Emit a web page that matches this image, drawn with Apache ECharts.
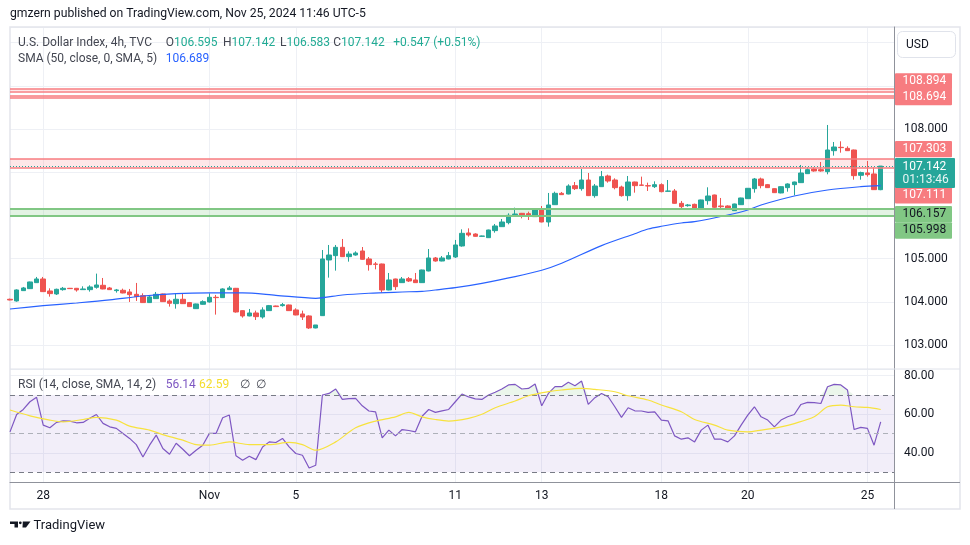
<!DOCTYPE html>
<html><head><meta charset="utf-8">
<script src="https://cdn.jsdelivr.net/npm/echarts@6/dist/echarts.min.js"></script>
<style>html,body{margin:0;padding:0;background:#fff}#c{width:970px;height:545px}</style>
</head><body><div id="c"></div>
<script>
// ---- data (4h candles, Oct 25 – Nov 25, 2024) ----
const openP = [104.058,104.019,104.258,104.304,104.443,104.528,104.250,104.181,104.281,104.312,104.312,104.281,104.281,104.335,104.382,104.320,104.258,104.266,104.227,104.173,104.142,103.981,104.073,104.181,104.019,103.957,104.058,103.981,103.841,103.942,103.996,104.104,104.096,104.281,104.312,103.795,103.672,103.741,103.648,103.795,103.903,103.911,103.926,103.811,103.718,103.672,103.394,103.679,104.968,105.068,105.261,105.045,105.083,105.176,104.991,104.875,104.875,104.273,104.528,104.443,104.535,104.505,104.443,104.713,105.014,104.944,104.991,105.037,105.292,105.593,105.569,105.515,105.484,105.647,105.739,105.832,106.017,106.048,106.040,105.971,106.148,105.847,106.248,106.511,106.495,106.688,106.619,106.819,106.457,106.665,106.912,106.819,106.657,106.457,106.773,106.704,106.688,106.665,106.711,106.557,106.565,106.279,106.225,106.256,106.156,106.341,106.472,106.218,106.218,106.110,106.248,106.387,106.619,106.843,106.712,106.619,106.519,106.642,106.712,106.758,106.966,107.074,107.059,107.012,107.498,107.576,107.552,107.514,106.928,106.982,106.959,106.595];
const highP = [104.073,104.289,104.343,104.466,104.575,104.575,104.312,104.304,104.343,104.320,104.320,104.358,104.382,104.652,104.551,104.343,104.297,104.304,104.297,104.436,104.196,104.135,104.227,104.189,104.058,104.196,104.196,103.996,103.957,104.034,104.196,104.158,104.312,104.366,104.320,103.803,103.834,103.795,103.872,103.926,103.911,103.973,103.934,103.849,103.795,103.687,103.463,105.199,105.315,105.315,105.454,105.168,105.168,105.268,105.037,104.921,104.883,104.667,104.535,104.574,104.574,104.667,104.744,105.222,105.037,105.060,105.153,105.431,105.677,105.700,105.585,105.531,105.670,105.801,105.917,106.048,106.179,106.056,106.086,106.156,106.218,106.519,106.549,106.542,106.719,106.773,107.074,106.981,106.727,107.028,106.943,106.858,106.688,106.912,106.781,106.897,106.758,106.788,106.742,106.819,106.611,106.334,106.264,106.272,106.364,106.650,106.480,106.403,106.233,106.272,106.410,106.634,106.866,106.874,106.727,106.627,106.673,106.742,106.781,107.167,107.113,107.113,107.236,108.093,107.699,107.715,107.599,107.522,107.012,107.259,107.113,107.142];
const lowP = [104.034,104.003,104.250,104.297,104.436,104.227,104.119,104.158,104.258,104.297,104.235,104.274,104.235,104.304,104.289,104.274,104.212,104.196,103.996,104.019,103.973,103.973,104.065,103.996,103.888,103.841,103.950,103.880,103.834,103.934,103.981,103.703,104.088,104.274,103.749,103.633,103.664,103.579,103.610,103.787,103.880,103.888,103.787,103.687,103.579,103.371,103.386,103.671,104.559,104.721,105.037,104.929,105.068,104.975,104.721,104.751,104.211,104.265,104.273,104.435,104.458,104.435,104.435,104.705,104.929,104.937,104.983,105.014,105.276,105.508,105.508,105.508,105.477,105.600,105.731,105.793,105.971,105.932,105.893,105.963,105.839,105.739,106.241,106.472,106.488,106.588,106.572,106.449,106.410,106.657,106.758,106.603,106.434,106.341,106.526,106.681,106.565,106.634,106.534,106.549,106.271,106.156,106.202,106.133,106.148,106.248,106.125,106.164,106.156,106.102,106.241,106.380,106.526,106.627,106.634,106.519,106.511,106.549,106.465,106.750,106.959,107.012,107.012,106.951,107.383,107.452,107.491,106.827,106.827,106.897,106.588,106.583];
const closeP = [104.042,104.274,104.320,104.459,104.528,104.235,104.189,104.289,104.312,104.304,104.274,104.297,104.343,104.389,104.297,104.281,104.274,104.204,104.165,104.119,103.981,104.112,104.173,104.003,103.965,104.058,103.957,103.888,103.950,104.003,104.104,104.096,104.297,104.320,103.764,103.672,103.741,103.656,103.811,103.911,103.888,103.934,103.795,103.695,103.648,103.394,103.463,104.991,105.083,105.261,105.045,105.106,105.130,104.983,104.860,104.867,104.273,104.505,104.350,104.528,104.481,104.443,104.736,105.014,104.944,105.014,105.068,105.315,105.585,105.546,105.515,105.523,105.662,105.755,105.847,106.002,106.032,105.994,106.002,106.148,105.847,106.241,106.511,106.480,106.680,106.619,106.819,106.457,106.680,106.897,106.796,106.642,106.457,106.773,106.688,106.696,106.681,106.711,106.549,106.565,106.279,106.202,106.241,106.164,106.357,106.449,106.187,106.202,106.164,106.264,106.403,106.627,106.843,106.688,106.642,106.526,106.665,106.727,106.773,106.981,107.059,107.028,107.028,107.514,107.583,107.568,107.498,106.920,106.990,106.943,106.596,107.142];
// SMA(50) read at points along the line: [candle index, value]
const sma50 = [[0,103.833],[5,103.910],[10,103.972],[15,104.042],[20,104.134],[25,104.188],[30,104.204],[35,104.204],[40,104.150],[46,104.081],[50,104.157],[54,104.197],[59,104.227],[62,104.243],[64,104.273],[67,104.326],[71,104.428],[76,104.581],[80,104.729],[83,104.891],[89,105.301],[94,105.576],[96,105.685],[98,105.748],[101,105.824],[103,105.854],[108,106.009],[111,106.125],[113,106.241],[118,106.449],[123,106.588],[128,106.664],[131,106.689]];
const rsi = [50.9,59.9,62.5,66.5,68.8,54.4,53.0,55.8,56.6,56.5,55.6,55.8,57.9,59.9,55.3,53.5,52.7,50.1,47.5,44.3,37.9,44.0,49.2,42.3,39.3,45.0,41.9,38.5,41.4,44.0,50.1,50.1,58.2,59.6,38.5,36.2,38.3,36.5,43.1,45.7,45.4,47.5,43.1,39.7,38.8,32.2,33.6,70.0,70.8,73.1,67.7,68.1,68.2,64.4,61.7,61.3,47.8,51.8,48.8,52.1,51.6,50.9,59.0,62.5,61.0,61.8,62.5,66.5,70.5,69.0,68.0,67.7,70.0,71.4,73.1,75.2,75.5,73.1,73.4,75.7,64.4,70.8,74.3,74.3,76.6,74.8,77.2,65.1,68.6,70.8,69.1,63.9,58.4,63.4,61.8,61.7,61.0,61.3,57.0,56.6,48.8,47.1,47.8,45.7,51.8,54.4,47.1,47.1,45.7,48.8,54.4,59.6,63.9,58.7,57.0,53.5,57.0,58.7,59.9,65.1,66.2,66.0,65.6,74.3,75.5,75.2,72.6,52.1,53.2,52.7,44.0,56.1];
const rsiMA = [[0,62.2],[3,59.2],[6,57.0],[8,56.1],[11,57.3],[13,58.4],[16,57.0],[18,53.9],[21,51.8],[23,49.5],[26,46.6],[28,44.3],[30,44.0],[33,45.7],[36,44.3],[39,44.3],[42,45.4],[44,44.3],[46,41.4],[49,45.7],[52,53.0],[55,56.5],[58,58.7],[60,61.0],[62,58.7],[64,57.3],[66,56.5],[69,57.9],[71,60.0],[73,63.4],[76,66.9],[78,69.6],[81,71.7],[83,72.6],[86,73.4],[88,72.9],[91,71.7],[93,69.6],[96,67.4],[98,64.8],[101,61.3],[103,57.3],[106,54.4],[108,51.8],[111,50.9],[113,51.8],[116,53.5],[118,55.2],[121,58.7],[123,63.9],[125,64.8],[127,63.9],[129,63.6],[131,62.5]];
const tickIndex = [5,30,43,67,80,98,111,129];
const tickLabels = ['28','Nov','5','11','13','18','20','25'];
const redBands = [[108.917,108.871],[108.771,108.725],[107.303,107.111]];
const greenBand = [106.157,105.998];
const lastPrice = 107.142;
const rsiLevels = [70,50,30];
const priceTags = [
  {t:'108.894', v:108.894, dy:-9, bg:'#f77c80', fg:'#ffffff'},
  {t:'108.694', v:108.694, dy:-2, bg:'#f77c80', fg:'#ffffff'},
  {t:'107.303', v:107.303, dy:-10, bg:'#f77c80', fg:'#ffffff'},
  {t:'107.111', v:107.111, dy:28, bg:'#f77c80', fg:'#ffffff'},
  {t:'106.157', v:106.157, dy:5.5, bg:'#81c784', fg:'#131722'},
  {t:'105.998', v:105.998, dy:15, bg:'#81c784', fg:'#131722'}
];
const hiddenPriceTicks = [106,107,109];

const N = 134;
const cats = Array.from({length:N},(_,i)=>String(i));
const labelAt = {}; tickIndex.forEach((k,j)=>labelAt[k]=tickLabels[j]);
const candles = openP.map((o,i)=>[o, closeP[i], lowP[i], highP[i]]);
const FONT = 'Roboto, "Noto Sans", sans-serif';
const gridCol = '#eef0f5';
const axisCol = '#8f929b';

const xBase = (gi, showLabels) => ({
  type:'category', data:cats, gridIndex:gi, boundaryGap:false,
  axisTick:{show:false},
  axisLine:{show:showLabels, lineStyle:{color:axisCol, width:1}},
  axisLabel:{show:showLabels, interval:(i)=>(i in labelAt), formatter:(v,i)=>labelAt[i]||'',
    color:'#131722', fontSize:12, fontFamily:FONT, margin:8},
  splitLine:{show:true, interval:(i)=>(i in labelAt), lineStyle:{color:gridCol, width:1}}
});

const chart = echarts.init(document.getElementById('c'), null, {renderer:'canvas'});
chart.setOption({
  animation:false,
  backgroundColor:'#ffffff',
  grid:[
    {left:10, right:76, top:27, height:342},
    {left:10, right:76, top:369, height:113}
  ],
  xAxis:[xBase(0,false), xBase(1,true)],
  yAxis:[
    {type:'value', gridIndex:0, position:'right', min:102.444, max:110.361, minInterval:1, maxInterval:1, splitNumber:8,
      axisLine:{show:true, lineStyle:{color:axisCol}}, axisTick:{show:false},
      axisLabel:{margin:10, color:'#131722', fontSize:12, fontFamily:FONT,
        formatter:(v)=> (Math.abs(v-Math.round(v))<1e-6 && !hiddenPriceTicks.includes(Math.round(v)) && v>102.9 && v<109.5) ? v.toFixed(3) : ''},
      splitLine:{lineStyle:{color:gridCol}}},
    {type:'value', gridIndex:1, position:'right', min:24.92, max:83.47, minInterval:20, maxInterval:20, splitNumber:3,
      axisLine:{show:true, lineStyle:{color:axisCol}}, axisTick:{show:false},
      axisLabel:{margin:10, color:'#131722', fontSize:12, fontFamily:FONT,
        formatter:(v)=> (Math.abs(v/20-Math.round(v/20))<1e-6) ? v.toFixed(2) : ''},
      splitLine:{lineStyle:{color:gridCol}}}
  ],
  series:[
    {type:'line', xAxisIndex:0, yAxisIndex:0, data:[], z:1, silent:true,
      markArea:{silent:true, data:[
        ...redBands.map(b=>[{yAxis:b[0], itemStyle:{color:'rgba(247,124,128,0.18)'}},{yAxis:b[1]}]),
        [{yAxis:greenBand[0], itemStyle:{color:'rgba(129,199,132,0.22)'}},{yAxis:greenBand[1]}]
      ]},
      markLine:{silent:true, symbol:'none', label:{show:false}, data:[
        ...redBands.flat().map(v=>({yAxis:v, lineStyle:{color:'#f77c80', width:1.6, type:'solid'}})),
        ...greenBand.map(v=>({yAxis:v, lineStyle:{color:'#81c784', width:2.2, type:'solid'}})),
        {yAxis:lastPrice, lineStyle:{color:'#26a69a', width:1, type:[1,2]}}
      ]}
    },
    {type:'candlestick', xAxisIndex:0, yAxisIndex:0, data:candles, barWidth:5, z:3, clip:true,
      itemStyle:{color:'#26a69a', color0:'#ef5350', borderColor:'#26a69a', borderColor0:'#ef5350', borderWidth:1}},
    {type:'line', xAxisIndex:0, yAxisIndex:0, data:sma50, smooth:0.3, showSymbol:false, z:4,
      lineStyle:{color:'#2962ff', width:1.2}},
    {type:'line', xAxisIndex:1, yAxisIndex:1, data:rsi.map(v=>Math.max(v,70)), showSymbol:false, z:2,
      lineStyle:{width:0, opacity:0}, areaStyle:{origin:70, color:'rgba(76,175,80,0.16)'}},
    {type:'line', xAxisIndex:1, yAxisIndex:1, data:rsi, showSymbol:false, z:4,
      lineStyle:{color:'#7e57c2', width:1.2},
      markArea:{silent:true, data:[[{yAxis:30, itemStyle:{color:'rgba(126,87,194,0.1)'}},{yAxis:70}]]},
      markLine:{silent:true, symbol:'none', label:{show:false}, data:rsiLevels.map(v=>({yAxis:v,
        lineStyle:{color: v===50 ? '#aeb1b9' : '#787b86', width:1, type:[5,4]}}))}
    },
    {type:'line', xAxisIndex:1, yAxisIndex:1, data:rsiMA, smooth:0.3, showSymbol:false, z:5,
      lineStyle:{color:'#f7e23e', width:1.2}}
  ]
});

// ---- decorations: frame, legends, price tags ----
const g = [];
const txt = (x,y,text,color,size,extra) => g.push(Object.assign({type:'text', x, y, z:20,
  style:{text, fill:color, font:`${size}px ${FONT}`, textVerticalAlign:'middle'}}, extra||{}));
g.push({type:'rect', shape:{x:10, y:27, width:950, height:482}, style:{fill:'none', stroke:'#e3e5ec', lineWidth:1.5}, z:0});
g.push({type:'line', shape:{x1:10, y1:369, x2:960, y2:369}, style:{stroke:'#e0e3eb', lineWidth:1}, z:10});
g.push({type:'line', shape:{x1:894.5, y1:482, x2:894.5, y2:509}, style:{stroke:axisCol, lineWidth:1}, z:10});
g.push({type:'line', shape:{x1:894, y1:482.5, x2:960, y2:482.5}, style:{stroke:axisCol, lineWidth:1}, z:10});
txt(10,14,'gmzern published on TradingView.com, Nov 25, 2024 11:46 UTC-5','#131722',12.2);
const legCol = '#434651', teal = '#22ab94';
txt(18,43,'U.S. Dollar Index, 4h, TVC',legCol,12);
[['O','106.595',165.7],['H','107.142',223],['L','106.583',280],['C','107.142',333.3]].forEach(([k,v,x])=>{
  g.push({type:'text', x, y:43, z:20, style:{text:`{k|${k}}{v|${v}}`, font:`12px ${FONT}`, textVerticalAlign:'middle',
    rich:{k:{fill:legCol, font:`12px ${FONT}`}, v:{fill:teal, font:`12px ${FONT}`}}}});
});
txt(393.3,43,'+0.547 (+0.51%)',teal,12);
txt(18,59,'SMA (50, close, 0, SMA, 5)',legCol,12);
txt(165.7,59,'106.689','#2962ff',12);
txt(18,385,'RSI (14, close, SMA, 14, 2)',legCol,12);
txt(165.7,385,'56.14','#7e57c2',12);
txt(199,385,'62.59','#f5dd2c',12);
txt(240,385,'∅',legCol,12);
txt(256,385,'∅',legCol,12);
// USD box
g.push({type:'rect', shape:{x:897.5, y:31.5, width:58, height:26, r:5}, style:{fill:'#fff', stroke:'#e0e3eb', lineWidth:1}, z:20});
txt(906,44.5,'USD','#131722',12);
// TradingView logo
g.push({type:'polygon', shape:{points:[[10,521.5],[18,521.5],[18,527.5],[14.5,527.5],[14.5,524],[10,524]]}, style:{fill:'#131722'}, z:20});
g.push({type:'circle', shape:{cx:20.3, cy:522.8, r:1.4}, style:{fill:'#131722'}, z:20});
g.push({type:'polygon', shape:{points:[[22.8,521.5],[30.5,521.5],[26,527.5],[22.5,527.5]]}, style:{fill:'#131722'}, z:20});
txt(33.5,526,'TradingView','#131722',13);
// price tags
priceTags.forEach(p=>{
  const y = chart.convertToPixel({yAxisIndex:0}, p.v) + p.dy;
  g.push({type:'rect', shape:{x:895, y:y-8.2, width:57, height:16.4, r:1}, style:{fill:p.bg}, z:21});
  g.push({type:'text', x:902.5, y:y, z:22, style:{text:p.t, fill:p.fg, font:`12px ${FONT}`, textVerticalAlign:'middle'}});
});
{
  const y = chart.convertToPixel({yAxisIndex:0}, lastPrice);
  g.push({type:'rect', shape:{x:895, y:y-8, width:60, height:30, r:1}, style:{fill:'#26a69a'}, z:21});
  g.push({type:'text', x:902.5, y:y+0.7, z:22, style:{text:'107.142', fill:'#ffffff', font:`12px ${FONT}`, textVerticalAlign:'middle'}});
  g.push({type:'text', x:902.5, y:y+13.7, z:22, style:{text:'01:13:46', fill:'#e8f6f4', font:`12px ${FONT}`, textVerticalAlign:'middle'}});
}
chart.setOption({graphic:g});
</script></body></html>
